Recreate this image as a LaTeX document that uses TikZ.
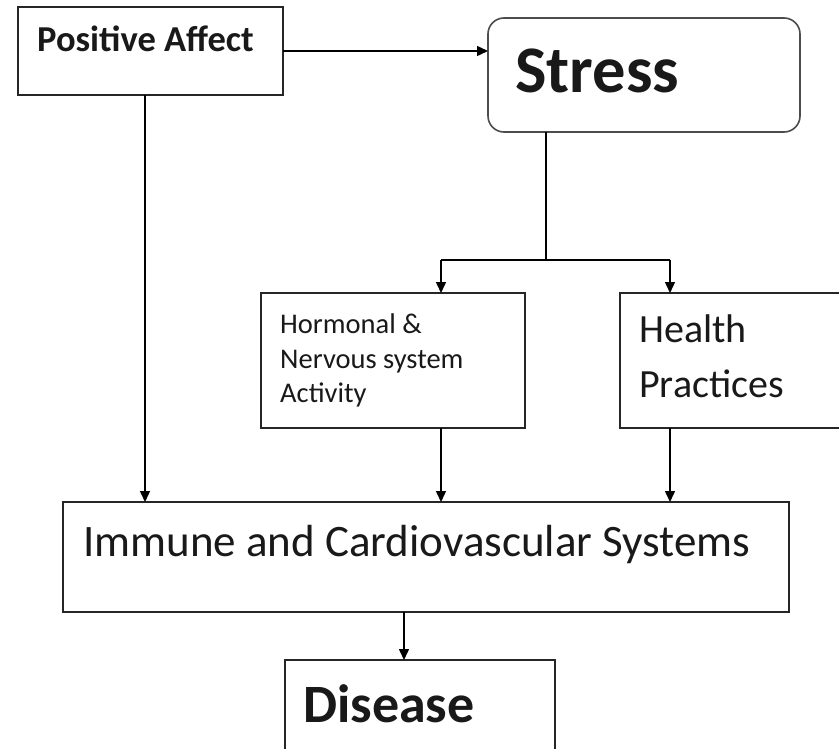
\documentclass[tikz,border=0pt]{standalone}
\usepackage{fontspec}
\setmainfont{Carlito}
\usetikzlibrary{arrows.meta}
\begin{document}
\begin{tikzpicture}[x=1pt,y=-1pt,
  box/.style={draw=black!85,line width=1.6pt,inner sep=0pt,outer sep=0pt},
  conn/.style={draw=black,line width=1.5pt},
  arr/.style={conn,-{Triangle[length=11pt,width=10pt]}},
  lbl/.style={anchor=base west,inner sep=0pt,text=black!90}]
\useasboundingbox (0,0) rectangle (839,749);
\clip (0,0) rectangle (839,749);
\fill[white] (0,0) rectangle (839,749);
% boxes
\node[box,minimum width=265pt,minimum height=88pt] (pa) at (150.5,51) {};
\node[box,draw=black!70,rounded corners=16pt,minimum width=312pt,minimum height=114pt] (stress) at (644,75) {};
\node[box,minimum width=264pt,minimum height=135pt] (horm) at (393,360.5) {};
\node[box,minimum width=230pt,minimum height=135pt] (hp) at (735,360.5) {};
\node[box,minimum width=726pt,minimum height=110pt] (imm) at (426,557) {};
\node[box,minimum width=270pt,minimum height=110pt] (dis) at (420,715) {};
% texts
\node[lbl,font=\bfseries\fontsize{36.5}{40}\selectfont] (tpa) at (37,52) {Positive Affect};
\node[lbl,font=\bfseries\fontsize{66.5}{70}\selectfont] (tst) at (515,93) {Stress};
\node[lbl,font=\fontsize{28.5}{30}\selectfont] (th1) at (280,333) {Hormonal \&};
\node[lbl,font=\fontsize{28.5}{30}\selectfont] (th2) at (280,368) {Nervous system};
\node[lbl,font=\fontsize{28.5}{30}\selectfont] (th3) at (280,402) {Activity};
\node[lbl,font=\fontsize{40}{44}\selectfont] (thp1) at (639,342) {Health};
\node[lbl,font=\fontsize{40}{44}\selectfont] (thp2) at (639,397) {Practices};
\node[lbl,font=\fontsize{45}{50}\selectfont] (tim) at (83,556) {Immune and Cardiovascular Systems};
\node[lbl,font=\bfseries\fontsize{54}{60}\selectfont] (tdi) at (303,722) {Disease};
% connector points
\coordinate (hin) at ([xshift=48pt]horm.north);
\coordinate (hout) at ([xshift=48pt]horm.south);
\coordinate (pin) at ([xshift=-65pt]hp.north);
\coordinate (pout) at ([xshift=-65pt]hp.south);
\coordinate (pa1) at ([xshift=-5.5pt]pa.south);
\coordinate (st1) at ([xshift=-98pt]stress.south);
\coordinate (im1) at ([xshift=-22pt]imm.south);
\coordinate (split) at (546,260);
% connectors
\draw[arr] (pa.east) -- (pa.east -| stress.west);
\draw[arr] (pa1) -- (pa1 |- imm.north);
\draw[conn] (st1) -- (split);
\draw[conn] (hin |- split) -- (pin |- split);
\draw[arr] (hin |- split) -- (hin);
\draw[arr] (pin |- split) -- (pin);
\draw[arr] (hout) -- (hout |- imm.north);
\draw[arr] (pout) -- (pout |- imm.north);
\draw[arr] (im1) -- (im1 |- dis.north);
\end{tikzpicture}
\end{document}
